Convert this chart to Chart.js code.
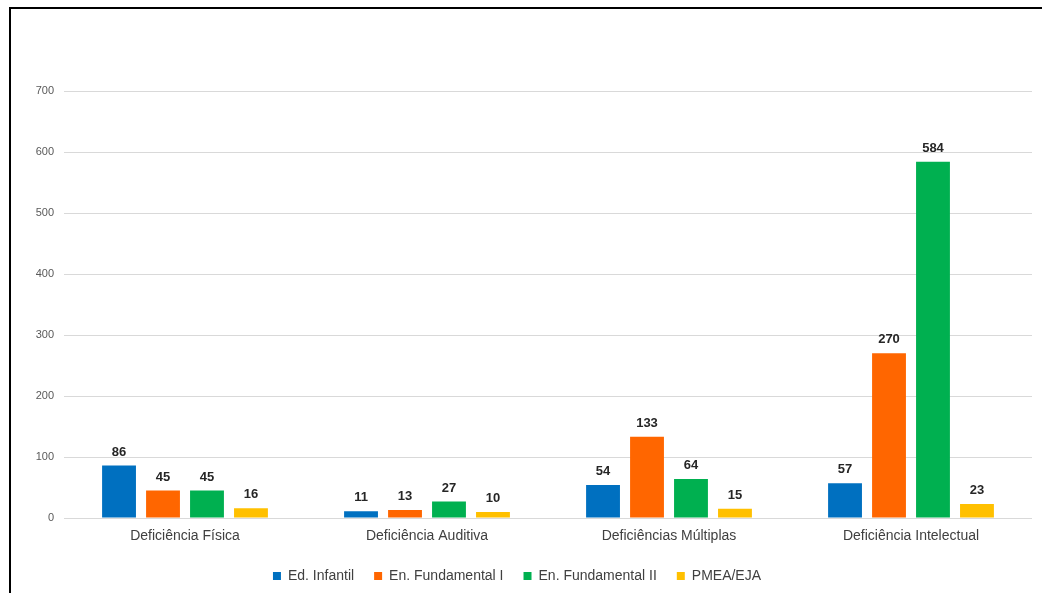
<!DOCTYPE html>
<html>
<head>
<meta charset="utf-8">
<script src="https://cdn.jsdelivr.net/npm/chart.js@4/dist/chart.umd.min.js"></script>
<style>
  html, body { margin: 0; padding: 0; background: #fff; overflow: hidden; }
  #wrap { position: relative; width: 1042px; height: 593px; }
  #frame { position: absolute; left: 9px; top: 7px; width: 1100px; height: 700px;
           border: 2px solid #000; box-sizing: border-box; pointer-events: none; }
  canvas { position: absolute; left: 0; top: 0; }
</style>
</head>
<body>
<div id="wrap">
  <canvas id="barChart" width="1042" height="593"></canvas>
  <div id="frame"></div>
</div>
<script>
// Categories and series
const categories = ['Deficiência Física', 'Deficiência Auditiva', 'Deficiências Múltiplas', 'Deficiência Intelectual'];
const edInfantil = [86, 11, 54, 57];
const enFundamental1 = [45, 13, 133, 270];
const enFundamental2 = [45, 27, 64, 584];
const pmeaEja = [16, 10, 15, 23];
const yTicks = [0, 100, 200, 300, 400, 500, 600, 700];

const FONT = "'Liberation Sans', Arial, sans-serif";

// Value labels above each bar
const valueLabels = {
  id: 'valueLabels',
  afterDatasetsDraw(chart) {
    const ctx = chart.ctx;
    ctx.save();
    ctx.font = 'bold 13px ' + FONT;
    ctx.fillStyle = '#262626';
    ctx.textAlign = 'center';
    ctx.textBaseline = 'bottom';
    chart.data.datasets.forEach((ds, i) => {
      chart.getDatasetMeta(i).data.forEach((bar, j) => {
        ctx.fillText(ds.data[j], bar.x, bar.y - 7);
      });
    });
    ctx.restore();
  }
};

const ctx = document.getElementById('barChart').getContext('2d');
new Chart(ctx, {
  type: 'bar',
  data: {
    labels: categories,
    datasets: [
      { label: 'Ed. Infantil', data: edInfantil, backgroundColor: '#0070C0' },
      { label: 'En. Fundamental I', data: enFundamental1, backgroundColor: '#FF6600' },
      { label: 'En. Fundamental II', data: enFundamental2, backgroundColor: '#00B050' },
      { label: 'PMEA/EJA', data: pmeaEja, backgroundColor: '#FFC000' }
    ]
  },
  options: {
    responsive: false,
    animation: false,
    barPercentage: 0.77,
    categoryPercentage: 0.727,
    layout: { padding: { left: 2, right: 10, top: 91, bottom: 0 } },
    scales: {
      x: {
        grid: { display: false },
        border: { display: false },
        ticks: { color: '#404040', font: { family: FONT, size: 14 }, padding: 2 },
        afterFit(scale) { scale.height = 31; }
      },
      y: {
        min: 0,
        max: 700,
        afterBuildTicks(scale) { scale.ticks = yTicks.map(v => ({ value: v })); },
        grid: { color: '#d9d9d9', lineWidth: 1, drawTicks: false },
        border: { display: false },
        ticks: { color: '#595959', font: { family: FONT, size: 11 }, padding: 10 },
        afterFit(scale) { scale.width = 62; }
      }
    },
    plugins: {
      tooltip: { enabled: false },
      legend: {
        position: 'bottom',
        labels: {
          boxWidth: 8,
          boxHeight: 8,
          padding: 20,
          color: '#404040',
          font: { family: FONT, size: 14 }
        }
      }
    }
  },
  plugins: [valueLabels]
});
</script>
</body>
</html>
